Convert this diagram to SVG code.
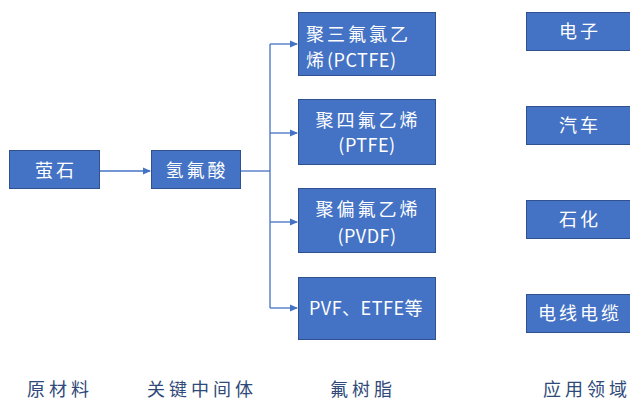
<svg xmlns="http://www.w3.org/2000/svg" width="630" height="401" viewBox="0 0 630 401">
<style>
.box{fill:#4472C4;stroke:#2F528F;stroke-width:1}
.t{font-family:"Noto Sans CJK SC","Noto Sans",sans-serif;font-size:18px;fill:#ffffff;letter-spacing:3px}
.c{text-anchor:middle}
.lat{letter-spacing:0.5px}
.lbl{font-family:"Noto Sans CJK SC","Noto Sans",sans-serif;font-size:18px;fill:#2F4A7A;letter-spacing:4px;text-anchor:middle}
.ln{fill:none;stroke:#4472C4;stroke-width:1.3}
</style>
<defs>
<marker id="ah" markerWidth="8" markerHeight="8" refX="7" refY="4" orient="auto" markerUnits="userSpaceOnUse">
<path d="M0,0.5 L8,4 L0,7.5 Z" fill="#4472C4"/>
</marker>
</defs>
<rect width="630" height="401" fill="#ffffff"/>
<g id="connectors">
<line class="ln" x1="100" y1="171" x2="150" y2="171" marker-end="url(#ah)"/>
<polyline class="ln" points="241,171 270,171"/>
<line class="ln" x1="270" y1="44" x2="270" y2="308"/>
<line class="ln" x1="270" y1="44" x2="297" y2="44" marker-end="url(#ah)"/>
<line class="ln" x1="270" y1="133" x2="297" y2="133" marker-end="url(#ah)"/>
<line class="ln" x1="270" y1="222" x2="297" y2="222" marker-end="url(#ah)"/>
<line class="ln" x1="270" y1="308" x2="297" y2="308" marker-end="url(#ah)"/>
</g>
<g id="fluorite"><rect class="box" x="9.5" y="150.5" width="90" height="38"/><text class="t c" x="56" y="177">萤石</text></g>
<g id="hf"><rect class="box" x="151.5" y="150.5" width="89" height="38"/><text class="t c" x="197" y="177">氢氟酸</text></g>
<g id="pctfe"><rect class="box" x="298.5" y="12.5" width="137" height="63"/><text class="t" x="306" y="41">聚三氟氯乙</text><text class="t" x="306" y="67">烯<tspan class="lat">(PCTFE)</tspan></text></g>
<g id="ptfe"><rect class="box" x="298.5" y="99.5" width="137" height="65"/><text class="t c" x="368" y="127">聚四氟乙烯</text><text class="t c lat" x="367" y="152">(PTFE)</text></g>
<g id="pvdf"><rect class="box" x="298.5" y="188.5" width="137" height="64"/><text class="t c" x="368" y="216">聚偏氟乙烯</text><text class="t c lat" x="367" y="243">(PVDF)</text></g>
<g id="pvf"><rect class="box" x="298.5" y="277.5" width="137" height="62"/><text class="t c lat" x="366" y="315">PVF、ETFE等</text></g>
<g id="electronics"><rect class="box" x="526.5" y="12.5" width="106" height="38"/><text class="t c" x="580" y="38">电子</text></g>
<g id="auto"><rect class="box" x="526.5" y="106.5" width="106" height="38"/><text class="t c" x="580" y="132">汽车</text></g>
<g id="petrochem"><rect class="box" x="526.5" y="200.5" width="106" height="38"/><text class="t c" x="580" y="226">石化</text></g>
<g id="cable"><rect class="box" x="526.5" y="294.5" width="106" height="38"/><text class="t c" x="580" y="320">电线电缆</text></g>
<g id="labels">
<text class="lbl" x="60" y="396">原材料</text>
<text class="lbl" x="202" y="396">关键中间体</text>
<text class="lbl" x="363" y="396">氟树脂</text>
<text class="lbl" x="587" y="396">应用领域</text>
</g>
</svg>
